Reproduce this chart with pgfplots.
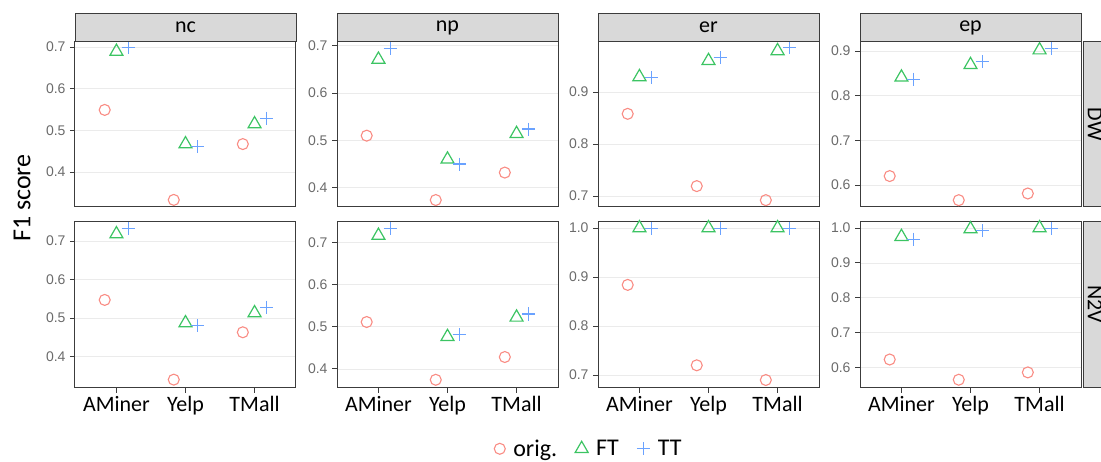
\documentclass[border=0pt]{standalone}
\usepackage{pgfplots}
\pgfplotsset{compat=1.18}
\usepackage{fontspec}
\setmainfont{Carlito}
\newfontfamily\tickfont{Liberation Sans}
\definecolor{origc}{HTML}{F98C84}
\definecolor{ftc}{HTML}{3CC463}
\definecolor{ttc}{HTML}{6AA2FF}
\definecolor{bordc}{HTML}{3C3C3C}
\definecolor{stripc}{HTML}{D9D9D9}
\definecolor{gridc}{HTML}{EBEBEB}
\definecolor{tickc}{HTML}{6B6B6B}
\pgfplotsset{
  panel/.style={
    scale only axis, width=221pt, anchor=north west,
    xmin=0.4, xmax=3.6, xtick={1,2,3},
    axis line style={draw=bordc, line width=1pt},
    every tick/.style={draw=bordc, line width=0.8pt},
    tick align=outside, major tick length=5pt, minor tick num=0,
    tick pos=left,
    ymajorgrids, major grid style={draw=gridc, line width=0.6pt},
    yticklabel style={font=\tickfont\fontsize{14}{14}\selectfont, text=tickc, xshift=-1pt,
      /pgf/number format/.cd, fixed, fixed zerofill, precision=1, assume math mode=true},
    scaled y ticks=false,
    clip=false,
    legend image code/.code={\draw[##1] plot coordinates {(0pt,0pt)};},
  },
  toprow/.style={height=165pt, xtick=\empty},
  botrow/.style={height=166.5pt, xticklabels={AMiner,Yelp,TMall},
    xticklabel style={font=\fontsize{22}{22}\selectfont, text=black}},
  origp/.style={only marks, mark=o, mark size=5.5pt, color=origc, mark options={line width=1.1pt}},
  ftp/.style={only marks, mark=triangle, mark size=7.5pt, color=ftc, mark options={line width=1.2pt}},
  ttp/.style={only marks, mark=+, mark size=6.5pt, color=ttc, mark options={line width=1.2pt}},
}
\begin{document}
\begin{tikzpicture}
\useasboundingbox (0pt,0pt) rectangle (1101pt,-461pt);
% ---------- row 1 (DW)
\begin{axis}[panel, toprow, at={(75pt,-41.7pt)}, ymin=0.3167, ymax=0.7127, ytick={0.4,0.5,0.6,0.7}]
\addplot[origp] coordinates {(0.83,0.549) (1.83,0.333) (2.83,0.467)};
\addplot[ftp] coordinates {(1,0.689) (2,0.467) (3,0.515)};
\addplot[ttp] coordinates {(1.17,0.698) (2.17,0.461) (3.17,0.529)};
\end{axis}
\begin{axis}[panel, toprow, at={(337pt,-41.7pt)}, ymin=0.3599, ymax=0.7085, ytick={0.4,0.5,0.6,0.7}]
\addplot[origp] coordinates {(0.83,0.510) (1.83,0.374) (2.83,0.432)};
\addplot[ftp] coordinates {(1,0.671) (2,0.460) (3,0.514)};
\addplot[ttp] coordinates {(1.17,0.694) (2.17,0.450) (3.17,0.524)};
\end{axis}
\begin{axis}[panel, toprow, at={(598pt,-41.7pt)}, ymin=0.6794, ymax=0.9967, ytick={0.7,0.8,0.9}]
\addplot[origp] coordinates {(0.83,0.858) (1.83,0.719) (2.83,0.692)};
\addplot[ftp] coordinates {(1,0.929) (2,0.960) (3,0.979)};
\addplot[ttp] coordinates {(1.17,0.928) (2.17,0.966) (3.17,0.985)};
\end{axis}
\begin{axis}[panel, toprow, at={(860pt,-41.7pt)}, ymin=0.5514, ymax=0.9208, ytick={0.6,0.7,0.8,0.9}]
\addplot[origp] coordinates {(0.83,0.620) (1.83,0.566) (2.83,0.581)};
\addplot[ftp] coordinates {(1,0.841) (2,0.869) (3,0.902)};
\addplot[ttp] coordinates {(1.17,0.837) (2.17,0.876) (3.17,0.906)};
\end{axis}
% ---------- row 2 (N2V)
\begin{axis}[panel, botrow, at={(75pt,-221pt)}, ymin=0.3196, ymax=0.7519, ytick={0.4,0.5,0.6,0.7}]
\addplot[origp] coordinates {(0.83,0.547) (1.83,0.340) (2.83,0.463)};
\addplot[ftp] coordinates {(1,0.718) (2,0.487) (3,0.513)};
\addplot[ttp] coordinates {(1.17,0.732) (2.17,0.480) (3.17,0.528)};
\end{axis}
\begin{axis}[panel, botrow, at={(337pt,-221pt)}, ymin=0.3557, ymax=0.7505, ytick={0.4,0.5,0.6,0.7},
  legend columns=3,
  legend style={at={(1.14,-0.368)}, anchor=center, draw=none, fill=none,
    font=\fontsize{24}{24}\selectfont, nodes={inner sep=2pt},
    /tikz/every odd column/.append style={column sep=6pt},
    /tikz/every even column/.append style={column sep=16pt}}]
\addplot[origp] coordinates {(0.83,0.511) (1.83,0.374) (2.83,0.428)};
\addlegendentry{orig.}
\addplot[ftp] coordinates {(1,0.716) (2,0.476) (3,0.522)};
\addlegendentry{FT}
\addplot[ttp] coordinates {(1.17,0.733) (2.17,0.481) (3.17,0.530)};
\addlegendentry{TT}
\end{axis}
\begin{axis}[panel, botrow, at={(598pt,-221pt)}, ymin=0.6747, ymax=1.0143, ytick={0.7,0.8,0.9,1.0}]
\addplot[origp] coordinates {(0.83,0.884) (1.83,0.720) (2.83,0.690)};
\addplot[ftp] coordinates {(1,1.0) (2,1.0) (3,1.0)};
\addplot[ttp] coordinates {(1.17,0.999) (2.17,0.999) (3.17,0.999)};
\end{axis}
\begin{axis}[panel, botrow, at={(860pt,-221pt)}, ymin=0.5427, ymax=1.02, ytick={0.6,0.7,0.8,0.9,1.0}]
\addplot[origp] coordinates {(0.83,0.623) (1.83,0.565) (2.83,0.586)};
\addplot[ftp] coordinates {(1,0.975) (2,0.997) (3,1.0)};
\addplot[ttp] coordinates {(1.17,0.968) (2.17,0.992) (3.17,0.999)};
\end{axis}
% ---------- strips
\begin{scope}[x=1pt, y=1pt, font=\fontsize{22}{22}\selectfont]
\foreach \x/\t in {75/nc,337/np,598/er,860/ep}{
  \draw[fill=stripc, draw=bordc, line width=1pt] (\x,-13) rectangle ({\x+221},-41.7);
  \node at ({\x+110.5},-27.5) {\t};
}
\draw[fill=stripc, draw=bordc, line width=1pt] (1083,-41.7) rectangle (1112,-206.7);
\node[rotate=-90] at (1095,-124.2) {DW};
\draw[fill=stripc, draw=bordc, line width=1pt] (1083,-221) rectangle (1112,-387.5);
\node[rotate=-90] at (1095,-304.3) {N2V};
\end{scope}
\node[rotate=90, font=\fontsize{26}{26}\selectfont] at (22pt,-198pt) {F1 score};
\end{tikzpicture}
\end{document}
